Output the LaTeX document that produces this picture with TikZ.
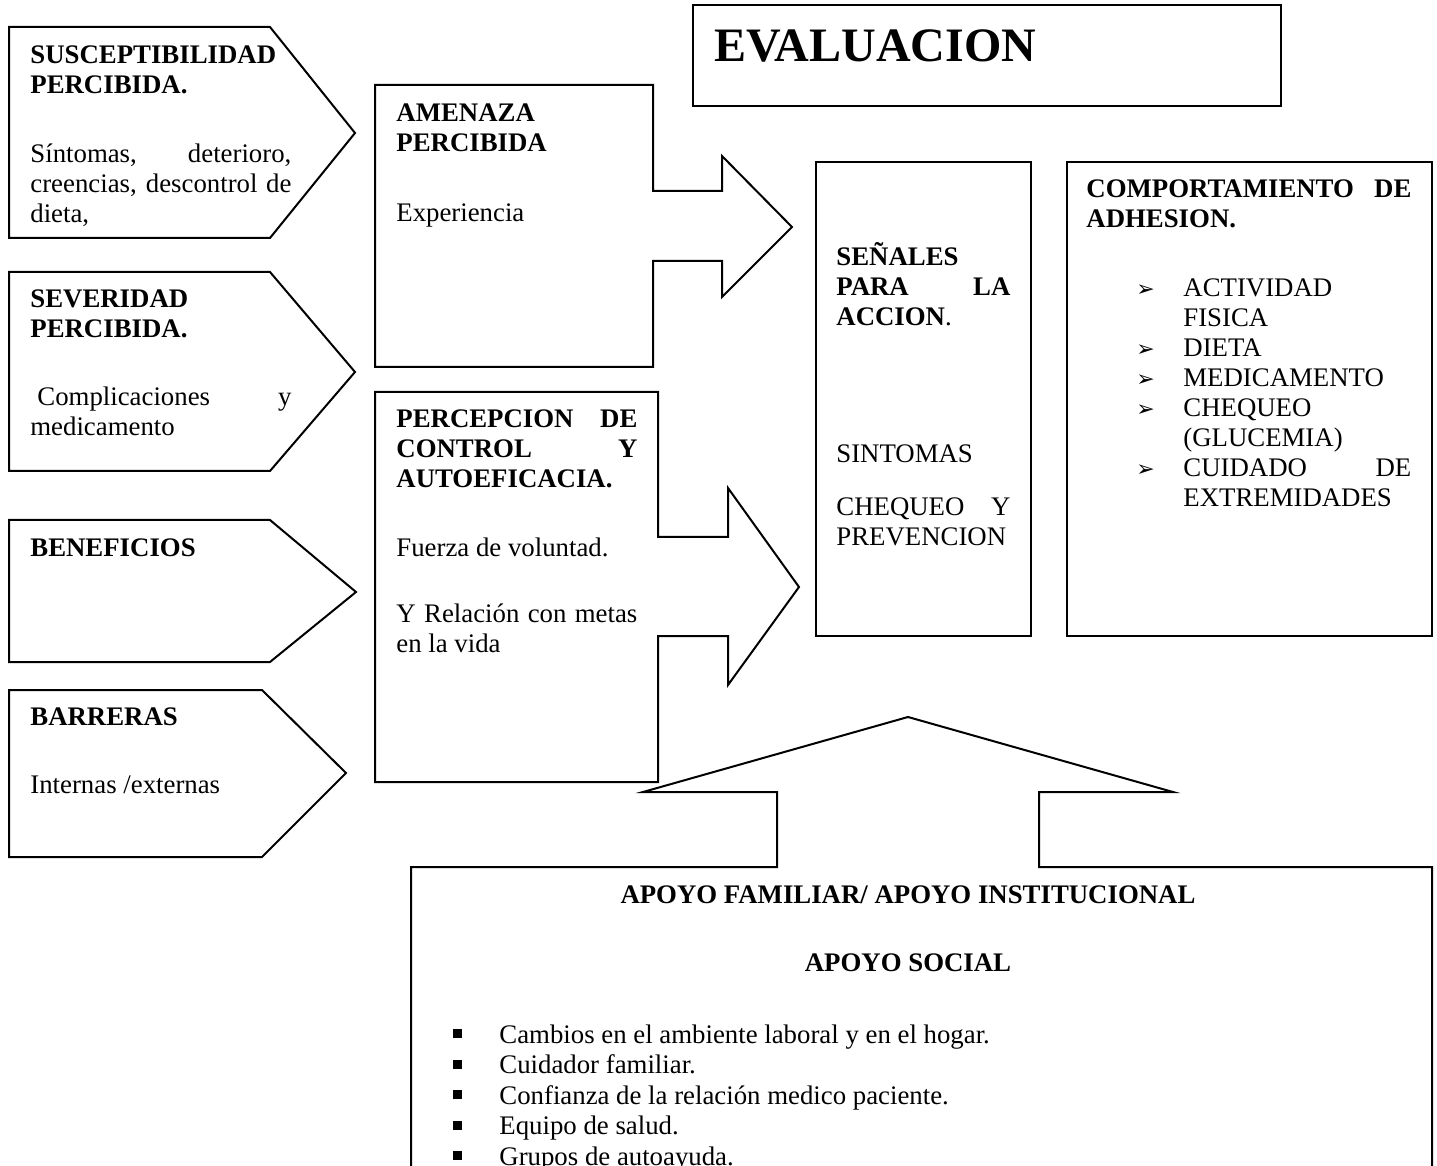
\documentclass[tikz,border=0pt]{standalone}
\usepackage{fontspec}
\setmainfont{Liberation Serif}
\newfontfamily\symfont{DejaVu Sans}
\newcommand\bodyfont{\fontsize{13.4}{15}\selectfont}
\newcommand\tstrut{\spaceskip=0pt\xspaceskip=0pt\rule{0pt}{12pt}}
\newcommand\jl[1]{\makebox[\hsize][s]{\spaceskip=0pt\xspaceskip=0pt #1}}
\newcommand\arrb{\makebox[23.5pt][l]{\symfont\fontsize{11}{11}\selectfont ➢}}
\newcommand\arrind{\hspace*{23.5pt}}
\newcommand\sqb{\makebox[23pt][l]{\rule[2.5pt]{4.5pt}{4.5pt}}}
\tikzset{
  outl/.style={draw=black, line width=1pt, line join=miter},
  txt/.style={inner sep=0pt, anchor=north west, align=left, font=\bodyfont},
  ctitle/.style={inner sep=0pt, anchor=base, font=\bodyfont\bfseries},
}
\begin{document}
\begin{tikzpicture}[x=0.5pt, y=-0.5pt]
\useasboundingbox (0,0) rectangle (1437,1166);
\clip (0,0) rectangle (1437,1166);

% left pentagon boxes
\draw[outl] (9,27) -- (270,27) -- (355,133) -- (270,238) -- (9,238) -- cycle;
\draw[outl] (9,272) -- (270,272) -- (355,372) -- (270,471) -- (9,471) -- cycle;
\draw[outl] (9,520) -- (270,520) -- (356,592) -- (270,662) -- (9,662) -- cycle;
\draw[outl] (9,690) -- (262,690) -- (346,773) -- (262,857) -- (9,857) -- cycle;

% middle boxes with arrows
\draw[outl] (375,85) -- (653,85) -- (653,191) -- (722,191) -- (722,156) -- (792,227)
  -- (722,297) -- (722,261) -- (653,261) -- (653,367) -- (375,367) -- cycle;
\draw[outl] (375,392) -- (658,392) -- (658,537) -- (728,537) -- (728,488) -- (799,587)
  -- (728,685) -- (728,636) -- (658,636) -- (658,782) -- (375,782) -- cycle;

% right boxes
\draw[outl] (693,5) rectangle (1281,106);
\draw[outl] (816,162) rectangle (1031,636);
\draw[outl] (1067,162) rectangle (1432,636);

% bottom box with up arrow
\draw[outl] (777,867) -- (777,792) -- (643,792) -- (908,717) -- (1173,792) -- (1039,792)
  -- (1039,867) -- (1432,867) -- (1432,1220) -- (411,1220) -- (411,867) -- cycle;

% texts
\node[txt, text width=130.5pt] (susc) at (30,39) {\tstrut\textbf{SUSCEPTIBILIDAD}\\
\textbf{PERCIBIDA.}\\[19.5pt]
\jl{Síntomas, deterioro,}\\
\jl{creencias, descontrol de}\\
dieta,};

\node[txt, text width=130.5pt] (sev) at (30,283) {\tstrut\textbf{SEVERIDAD}\\
\textbf{PERCIBIDA.}\\[19pt]
\jl{\hspace*{3.5pt}Complicaciones y}\\
medicamento};

\node[txt, text width=130.5pt] (ben) at (30,532) {\tstrut\textbf{BENEFICIOS}};

\node[txt, text width=130.5pt] (bar) at (30,701) {\tstrut\textbf{BARRERAS}\\[19pt]
Internas /externas};

\node[txt, text width=120.5pt] (amen) at (396,97) {\tstrut\textbf{AMENAZA}\\
\textbf{PERCIBIDA}\\[20pt]
Experiencia};

\node[txt, text width=120.5pt] (perc) at (396,403) {\tstrut\jl{\textbf{PERCEPCION DE}}\\
\jl{\textbf{CONTROL Y}}\\
\textbf{AUTOEFICACIA.}\\[19.5pt]
Fuerza de voluntad.\\[18pt]
\jl{Y Relación con metas}\\
en la vida};

\node[inner sep=0pt, anchor=base west, font=\fontsize{24}{28}\selectfont\bfseries] (eval) at (714,62) {EVALUACION};

\node[txt, text width=87pt] (sen) at (836,241) {\tstrut\textbf{SEÑALES}\\
\jl{\textbf{PARA LA}}\\
\textbf{ACCION}.\\[53.5pt]
SINTOMAS\\[11.5pt]
\jl{CHEQUEO Y}\\
PREVENCION};

\node[txt, text width=162.5pt] (comp) at (1086,173) {\tstrut\jl{\textbf{COMPORTAMIENTO DE}}\\
\textbf{ADHESION.}};

\node[txt, text width=137.5pt] (lista) at (1136,272) {\tstrut\arrb ACTIVIDAD\\
\arrind FISICA\\
\arrb DIETA\\
\arrb MEDICAMENTO\\
\arrb CHEQUEO\\
\arrind (GLUCEMIA)\\
\arrb\makebox[\dimexpr\hsize-23.5pt\relax][s]{\spaceskip=0pt\xspaceskip=0pt CUIDADO DE}\\
\arrind EXTREMIDADES};

\node[ctitle] (apoyo1) at (908,903) {APOYO FAMILIAR/ APOYO INSTITUCIONAL};
\node[ctitle] (apoyo2) at (908,971) {APOYO SOCIAL};

\node[txt, font=\fontsize{13.4}{15.25}\selectfont] (lista2) at (453,1019) {\tstrut\sqb Cambios en el ambiente laboral y en el hogar.\\
\sqb Cuidador familiar.\\
\sqb Confianza de la relación medico paciente.\\
\sqb Equipo de salud.\\
\sqb Grupos de autoayuda.};
\end{tikzpicture}
\end{document}
